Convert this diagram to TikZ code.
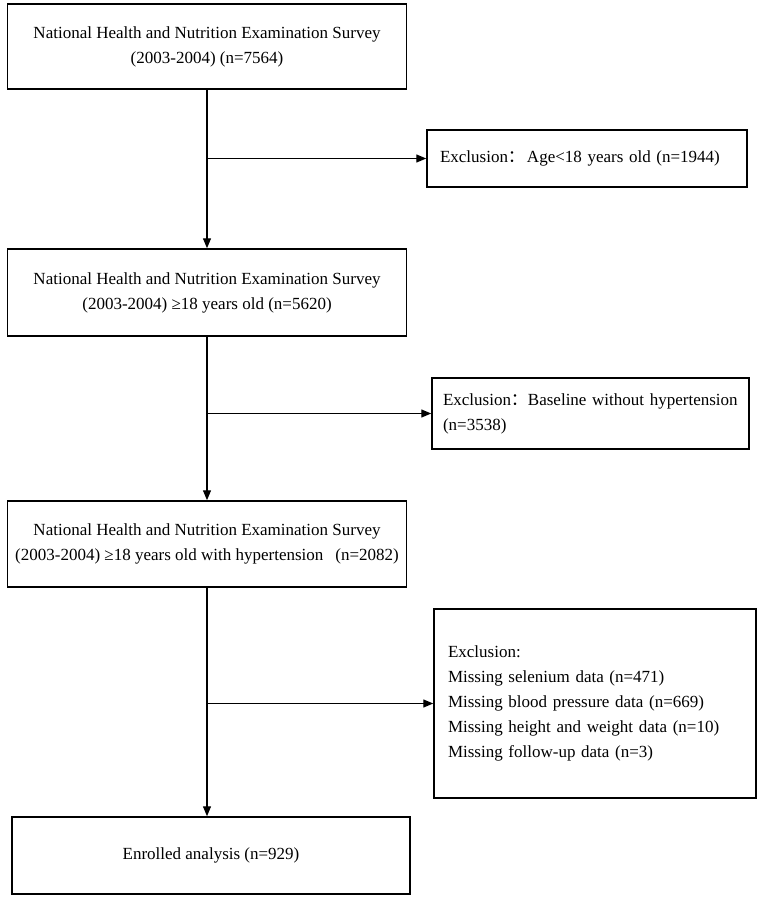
\documentclass[tikz,border=0pt]{standalone}
\usepackage{fontspec}
\setmainfont{Liberation Serif}
\newfontfamily\cjk{Noto Sans CJK SC}
\usetikzlibrary{arrows.meta}
\tikzset{
  mainbox/.style={draw, line width=1.5pt, inner sep=0pt, align=center,
    font=\fontsize{17}{25}\selectfont},
  exbox/.style={draw, line width=1.5pt, inner xsep=13pt, inner ysep=0pt, align=left,
    font=\fontsize{17}{25}\selectfont},
  flow/.style={line width=1.3pt, -{Triangle[length=10pt,width=8pt]}},
}
\begin{document}
\begin{tikzpicture}[x=1pt,y=-1pt]
\useasboundingbox (0,0) rectangle (765,902);
\node[mainbox, minimum width=399pt, minimum height=85pt] (b1) at (207,46.5)
  {National Health and Nutrition Examination Survey\\(2003-2004) (n=7564)};
\node[exbox, minimum width=320pt, minimum height=57pt, text width=294pt] (e1) at (587,158.5)
  {\mbox{Exclusion{\cjk ：}\hspace{2pt}Age<18 years old (n=1944)}};
\node[mainbox, minimum width=399pt, minimum height=87pt] (b2) at (207,292.5)
  {National Health and Nutrition Examination Survey\\(2003-2004) ≥18 years old (n=5620)};
\node[exbox, minimum width=317pt, minimum height=71pt, text width=295pt, inner xsep=11pt] (e2) at (590.5,413.5)
  {\mbox{Exclusion{\cjk ：}Baseline without hypertension}\\(n=3538)};
\node[mainbox, minimum width=399pt, minimum height=86pt] (b3) at (207,544)
  {National Health and Nutrition Examination Survey\\(2003-2004) ≥18 years old with hypertension\hspace{12pt}(n=2082)};
\node[exbox, minimum width=322pt, minimum height=189pt, text width=294pt, inner xsep=14pt] (e3) at (595,703.5)
  {Exclusion:\\Missing selenium data (n=471)\\Missing blood pressure data (n=669)\\Missing height and weight data (n=10)\\Missing follow-up data (n=3)};
\node[mainbox, minimum width=398pt, minimum height=77pt] (b4) at (211,855.5)
  {Enrolled analysis (n=929)};
\draw[flow] (b1.south) -- (b1.south |- b2.north);
\draw[flow] (b1.south |- e1.west) -- (e1.west);
\draw[flow] (b2.south) -- (b2.south |- b3.north);
\draw[flow] (b2.south |- e2.west) -- (e2.west);
\draw[flow] (b3.south) -- (b3.south |- b4.north);
\draw[flow] (b3.south |- e3.west) -- (e3.west);
\end{tikzpicture}
\end{document}
